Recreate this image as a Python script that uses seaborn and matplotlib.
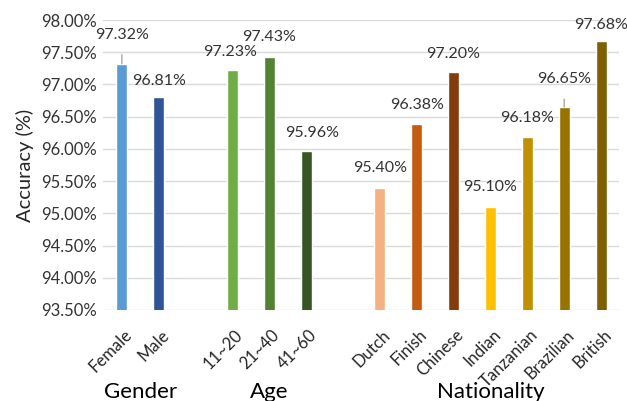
import matplotlib
matplotlib.use("Agg")
import matplotlib.pyplot as plt
import seaborn as sns
import pandas as pd
import numpy as np
from matplotlib.ticker import FuncFormatter, MultipleLocator
import matplotlib.transforms as mtransforms

categories = ["Female", "Male", "11~20", "21~40", "41~60",
              "Dutch", "Finish", "Chinese", "Indian", "Tanzanian", "Brazilian", "British"]
values = [97.32, 96.81, 97.23, 97.43, 95.96,
          95.40, 96.38, 97.20, 95.10, 96.18, 96.65, 97.68]
colors = ["#5B9BD5", "#2F5597", "#70AD47", "#548235", "#375623",
          "#F4B183", "#C55A11", "#843C0C", "#FFC000", "#BF9000", "#997300", "#7F6000"]
groups = ["Gender", "Age", "Nationality"]
group_members = [["Female", "Male"], ["11~20", "21~40", "41~60"],
                 ["Dutch", "Finish", "Chinese", "Indian", "Tanzanian", "Brazilian", "British"]]
# label offsets (points) for data labels: (dx, dy)
label_offsets = [(0, 21), (0, 11), (-2, 13), (0, 14), (4, 13),
                 (0, 14), (0, 14), (0, 13), (0, 14), (0, 14), (0, 20), (0, 11)]
leader = ["Female", "Brazilian"]

sns.set_theme(style="white")
plt.rcParams['font.family'] = ['Lato', 'DejaVu Sans']

gap1, gap2 = "gap1", "gap2"
order = ["Female", "Male", gap1, "11~20", "21~40", "41~60", gap2,
         "Dutch", "Finish", "Chinese", "Indian", "Tanzanian", "Brazilian", "British"]
df = pd.DataFrame({"cat": categories, "val": values})
palette = dict(zip(categories, colors))

fig = plt.figure(figsize=(6.27, 4.01), dpi=100)
ax = fig.add_axes([0.165, 0.227, 0.823, 0.723])
sns.barplot(data=df, x="cat", y="val", hue="cat", order=order, hue_order=categories,
            palette=palette, width=0.3, legend=False, ax=ax, saturation=1)

ax.set_ylim(93.5, 98.0)
ax.set_xlim(-0.5, len(order) - 0.5)
ax.yaxis.set_major_locator(MultipleLocator(0.5))
ax.yaxis.set_major_formatter(FuncFormatter(lambda v, p: f"{v:.2f}%"))
ax.grid(axis="y", color="#D9D9D9", linewidth=1)
ax.set_axisbelow(True)
for s in ["top", "right", "left", "bottom"]:
    ax.spines[s].set_visible(False)
ax.tick_params(axis="both", length=0)
ax.tick_params(axis="y", labelsize=12, labelcolor="#333333", pad=5)

ax.set_xticks(range(len(order)))
ax.set_xticklabels(["" if c in (gap1, gap2) else c for c in order],
                   rotation=45, ha="right", va="top", rotation_mode="anchor",
                   fontsize=12, color="#262626")
ax.tick_params(axis="x", pad=12)
shift = mtransforms.ScaledTranslation(2 / 100, 0, fig.dpi_scale_trans)
for lbl in ax.get_xticklabels():
    lbl.set_transform(lbl.get_transform() + shift)
ax.set_xlabel("")
ax.set_ylabel("Accuracy (%)", fontsize=14.5, color="#262626", labelpad=5)

for cat, val, (dx, dy) in zip(categories, values, label_offsets):
    xi = order.index(cat)
    ap = None
    if cat in leader:
        ap = dict(arrowstyle="-", color="#A6A6A6", lw=1, shrinkA=7, shrinkB=0)
    ax.annotate(f"{val:.2f}%", xy=(xi, val), xytext=(dx, dy), textcoords="offset points",
                ha="center", va="center", fontsize=11.5, color="#333333",
                arrowprops=ap, annotation_clip=False)

trans = mtransforms.blended_transform_factory(ax.transData, fig.transFigure)
for g, members in zip(groups, group_members):
    xs = [order.index(m) for m in members]
    ax.text(np.mean(xs), 0.022, g, transform=trans, ha="center", va="center",
            fontsize=16, color="#000000")

fig.savefig("out.png", dpi=100)
